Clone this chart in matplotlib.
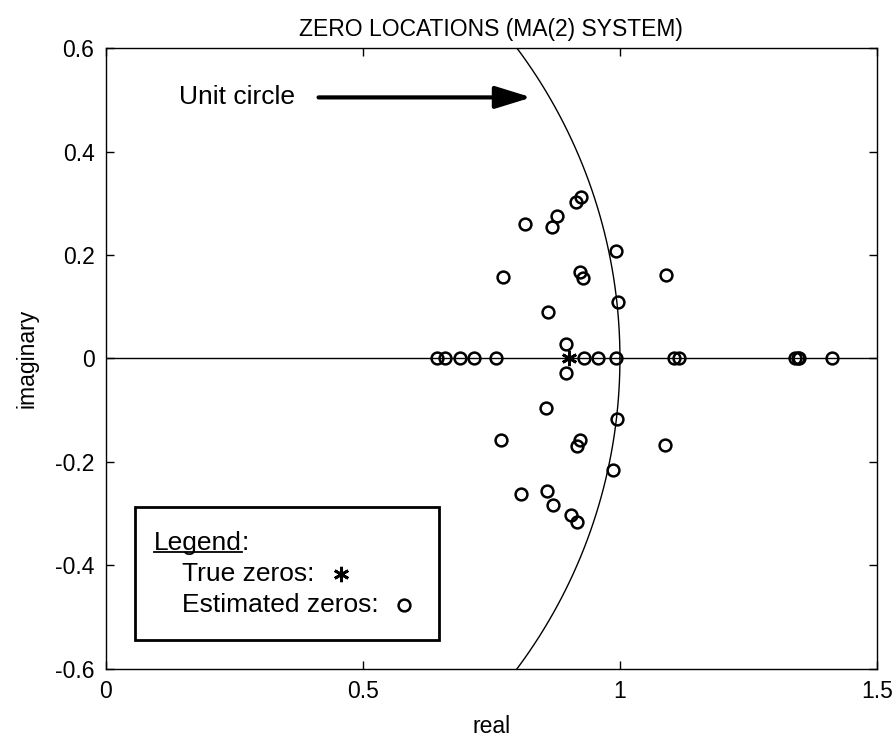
import numpy as np
import matplotlib
matplotlib.use("Agg")
import matplotlib.pyplot as plt
from matplotlib.patches import Rectangle

plt.rcParams['font.family'] = ['Liberation Sans', 'DejaVu Sans']

# estimated zeros
est_real = [0.925, 0.915, 0.878, 0.815, 0.867, 0.992, 0.773, 0.922, 0.928, 0.996, 0.860, 0.896, 1.090,
            0.895, 0.857, 0.994, 0.769, 0.923, 0.917, 0.987, 0.808, 0.859, 0.869, 0.905, 0.917, 1.087,
            0.645, 0.660, 0.689, 0.716, 0.760, 0.931, 0.957, 0.993, 1.105, 1.114, 1.341, 1.346, 1.349, 1.413]
est_imag = [0.312, 0.302, 0.276, 0.260, 0.255, 0.208, 0.157, 0.168, 0.155, 0.110, 0.089, 0.029, 0.162,
            -0.028, -0.096, -0.117, -0.158, -0.158, -0.170, -0.215, -0.262, -0.257, -0.284, -0.303, -0.316, -0.167,
            0, 0, 0, 0, 0, 0, 0, 0, 0, 0, 0, 0, 0, 0]
true_real = [0.9]
true_imag = [0.0]

fig = plt.figure(figsize=(8.95, 7.43), dpi=100)
ax = fig.add_axes([0.118, 0.100, 0.862, 0.835])

# unit circle and real axis
th = np.linspace(0, 2 * np.pi, 721)
ax.plot(np.cos(th), np.sin(th), color='black', lw=1.0)
ax.axhline(0, color='black', lw=1.0)

ax.plot(est_real, est_imag, linestyle='none', marker='o', mfc='none', mec='black', ms=8.5, mew=1.8)
ax.plot(true_real, true_imag, linestyle='none', marker=(6, 2, 0), color='black', ms=11, mew=2)

ax.set_xlim(0, 1.5)
ax.set_ylim(-0.6, 0.6)
ax.set_xticks([0, 0.5, 1, 1.5])
ax.set_xticklabels(['0', '0.5', '1', '1.5'])
ax.set_yticks([-0.6, -0.4, -0.2, 0, 0.2, 0.4, 0.6])
ax.set_yticklabels(['-0.6', '-0.4', '-0.2', '0', '0.2', '0.4', '0.6'])
ax.tick_params(direction='in', top=True, right=True, length=6, width=1, labelsize=16.5, pad=8)
for s in ax.spines.values():
    s.set_linewidth(1.0)

ax.set_title('ZERO LOCATIONS (MA(2) SYSTEM)', fontsize=16.5, pad=9)
ax.set_xlabel('real', fontsize=16.5, labelpad=9)
ax.set_ylabel('imaginary', fontsize=16.5, labelpad=12)

# arrow to unit circle
ax.text(0.142, 0.505, 'Unit circle', fontsize=19, va='center', ha='left')
ax.annotate('', xy=(0.828, 0.505), xytext=(0.414, 0.505),
            arrowprops=dict(arrowstyle='-|>,head_length=1.1,head_width=0.34',
                            mutation_scale=20, lw=3, color='black', shrinkA=0, shrinkB=0))

# hand drawn legend box
ax.add_patch(Rectangle((0.058, -0.544), 0.59, 0.256, fill=False, lw=2, ec='black', zorder=5))
leg = ax.text(0.094, -0.370, 'Legend', fontsize=19, va='baseline', ha='left')
ax.text(0.148, -0.416, 'True zeros:', fontsize=19, va='center', ha='left')
ax.text(0.148, -0.476, 'Estimated zeros:', fontsize=19, va='center', ha='left')
ax.plot([0.457], [-0.416], linestyle='none', marker=(6, 2, 0), color='black', ms=11, mew=2)
ax.plot([0.581], [-0.476], linestyle='none', marker='o', mfc='none', mec='black', ms=8.5, mew=1.8)

# underline "Legend" and put the colon after it
fig.canvas.draw()
bb = leg.get_window_extent().transformed(ax.transData.inverted())
ax.plot([bb.x0, bb.x1], [-0.375, -0.375], color='black', lw=1.3)
ax.text(bb.x1, -0.370, ':', fontsize=19, va='baseline', ha='left')

fig.savefig('out.png', dpi=100)
